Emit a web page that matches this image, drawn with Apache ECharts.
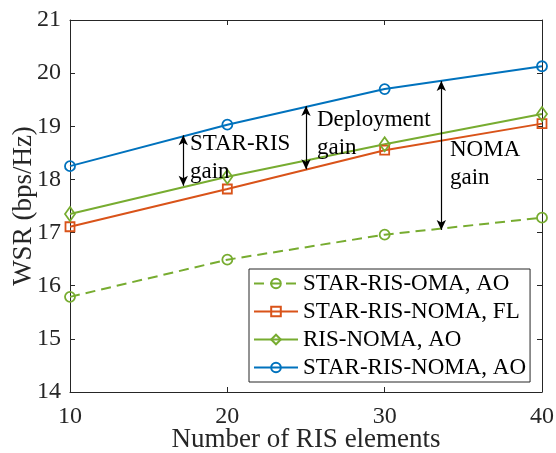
<!DOCTYPE html>
<html>
<head>
<meta charset="utf-8">
<script src="https://cdn.jsdelivr.net/npm/echarts@6/dist/echarts.min.js"></script>
<style>html,body{margin:0;padding:0;background:#fff}#c{width:556px;height:453px}</style>
</head>
<body>
<div id="c"></div>
<script>
const xValues = [10, 20, 30, 40];
const starRisOmaAO = [15.79, 16.49, 16.96, 17.28];
const starRisNomaFL = [17.11, 17.82, 18.55, 19.05];
const risNomaAO = [17.35, 18.05, 18.66, 19.23];
const starRisNomaAO = [18.25, 19.03, 19.70, 20.13];
const seriesNames = ['STAR-RIS-OMA, AO', 'STAR-RIS-NOMA, FL', 'RIS-NOMA, AO', 'STAR-RIS-NOMA, AO'];
const xTicks = [10, 20, 30, 40];
const yTicks = [14, 15, 16, 17, 18, 19, 20, 21];
// annotation arrows (x, top y, bottom y)
const arrowX = [17.2, 25, 33.6];
const arrowTop = [18.83, 19.38, 19.85];
const arrowBottom = [17.88, 18.19, 17.05];
const arrowLabels = ['STAR-RIS\ngain', 'Deployment\ngain', 'NOMA\ngain'];

const FONT = 'Liberation Serif';
const AX = '#262626';
const zip = (a) => xValues.map((x, i) => [x, a[i]]);

const chart = echarts.init(document.getElementById('c'), null, {renderer: 'canvas'});

function mkSeries(name, data, color, symbol, size, dashed) {
  return {
    name, type: 'line', data: zip(data),
    symbol, symbolSize: size, showSymbol: true,
    lineStyle: {color, width: 2, type: dashed ? [10, 6] : 'solid'},
    itemStyle: {color: 'rgba(255,255,255,0)', borderColor: color, borderWidth: 1.8},
    emphasis: {disabled: true},
    z: 3
  };
}

const series = [
  mkSeries(seriesNames[0], starRisOmaAO, '#77AC30', 'circle', 10, true),
  mkSeries(seriesNames[1], starRisNomaFL, '#D95319', 'rect', 9, false),
  mkSeries(seriesNames[2], risNomaAO, '#77AC30', 'diamond', [10, 14], false),
  mkSeries(seriesNames[3], starRisNomaAO, '#0072BD', 'circle', 10, false)
];
series.push({
  type: 'line', data: [], silent: true,
  markLine: {
    silent: true, animation: false,
    symbol: ['arrow', 'arrow'], symbolSize: [7, 10],
    lineStyle: {color: '#000', width: 1.2, type: 'solid'},
    label: {show: false},
    data: arrowX.map((x, i) => [{coord: [x, arrowTop[i]]}, {coord: [x, arrowBottom[i]]}])
  }
});

const labelPos = [[190, 130], [317, 106], [450, 136]];

chart.setOption({
  animation: false,
  backgroundColor: '#fff',
  grid: {left: 70, right: 14, top: 20, bottom: 61, show: false, containLabel: false, outerBoundsMode: 'none'},
  xAxis: [{
    type: 'value', min: 10, max: 40, interval: 10,
    name: 'Number of RIS elements', nameLocation: 'middle', nameGap: 34, nameMoveOverlap: false,
    nameTextStyle: {fontFamily: FONT, fontSize: 27, color: AX},
    axisLine: {show: true, lineStyle: {color: AX, width: 1}},
    axisTick: {show: true, inside: true, length: 5, lineStyle: {color: AX}},
    axisLabel: {fontFamily: FONT, fontSize: 24, color: AX, margin: 13,
      formatter: v => xTicks.includes(v) ? String(v) : ''},
    splitLine: {show: false}
  }, {
    type: 'value', min: 10, max: 40, interval: 10, position: 'top',
    axisLine: {show: true, lineStyle: {color: AX, width: 1}},
    axisTick: {show: true, inside: true, length: 5, lineStyle: {color: AX}},
    axisLabel: {show: false}, splitLine: {show: false}
  }],
  yAxis: [{
    type: 'value', min: 14, max: 21, interval: 1,
    name: 'WSR (bps/Hz)', nameLocation: 'middle', nameGap: 33, nameMoveOverlap: false,
    nameTextStyle: {fontFamily: FONT, fontSize: 27, color: AX},
    axisLine: {show: true, lineStyle: {color: AX, width: 1}},
    axisTick: {show: true, inside: true, length: 5, lineStyle: {color: AX}},
    axisLabel: {fontFamily: FONT, fontSize: 24, color: AX, margin: 9,
      formatter: v => yTicks.includes(v) ? String(v) : ''},
    splitLine: {show: false}
  }, {
    type: 'value', min: 14, max: 21, interval: 1, position: 'right',
    axisLine: {show: true, lineStyle: {color: AX, width: 1}},
    axisTick: {show: true, inside: true, length: 5, lineStyle: {color: AX}},
    axisLabel: {show: false}, splitLine: {show: false}
  }],
  legend: {
    orient: 'vertical', left: 249, top: 269,
    backgroundColor: '#fff', borderColor: AX, borderWidth: 1,
    padding: [3, 4, 3, 4], itemGap: 5, itemWidth: 44, itemHeight: 12,
    data: seriesNames,
    textStyle: {fontFamily: FONT, fontSize: 23, color: '#000', lineHeight: 23}
  },
  series,
  graphic: arrowLabels.map((t, i) => ({
    type: 'text', left: labelPos[i][0], top: labelPos[i][1], z: 10,
    style: {text: t, font: '23px "Liberation Serif"', fill: '#000', lineHeight: 28}
  }))
});
</script>
</body>
</html>
